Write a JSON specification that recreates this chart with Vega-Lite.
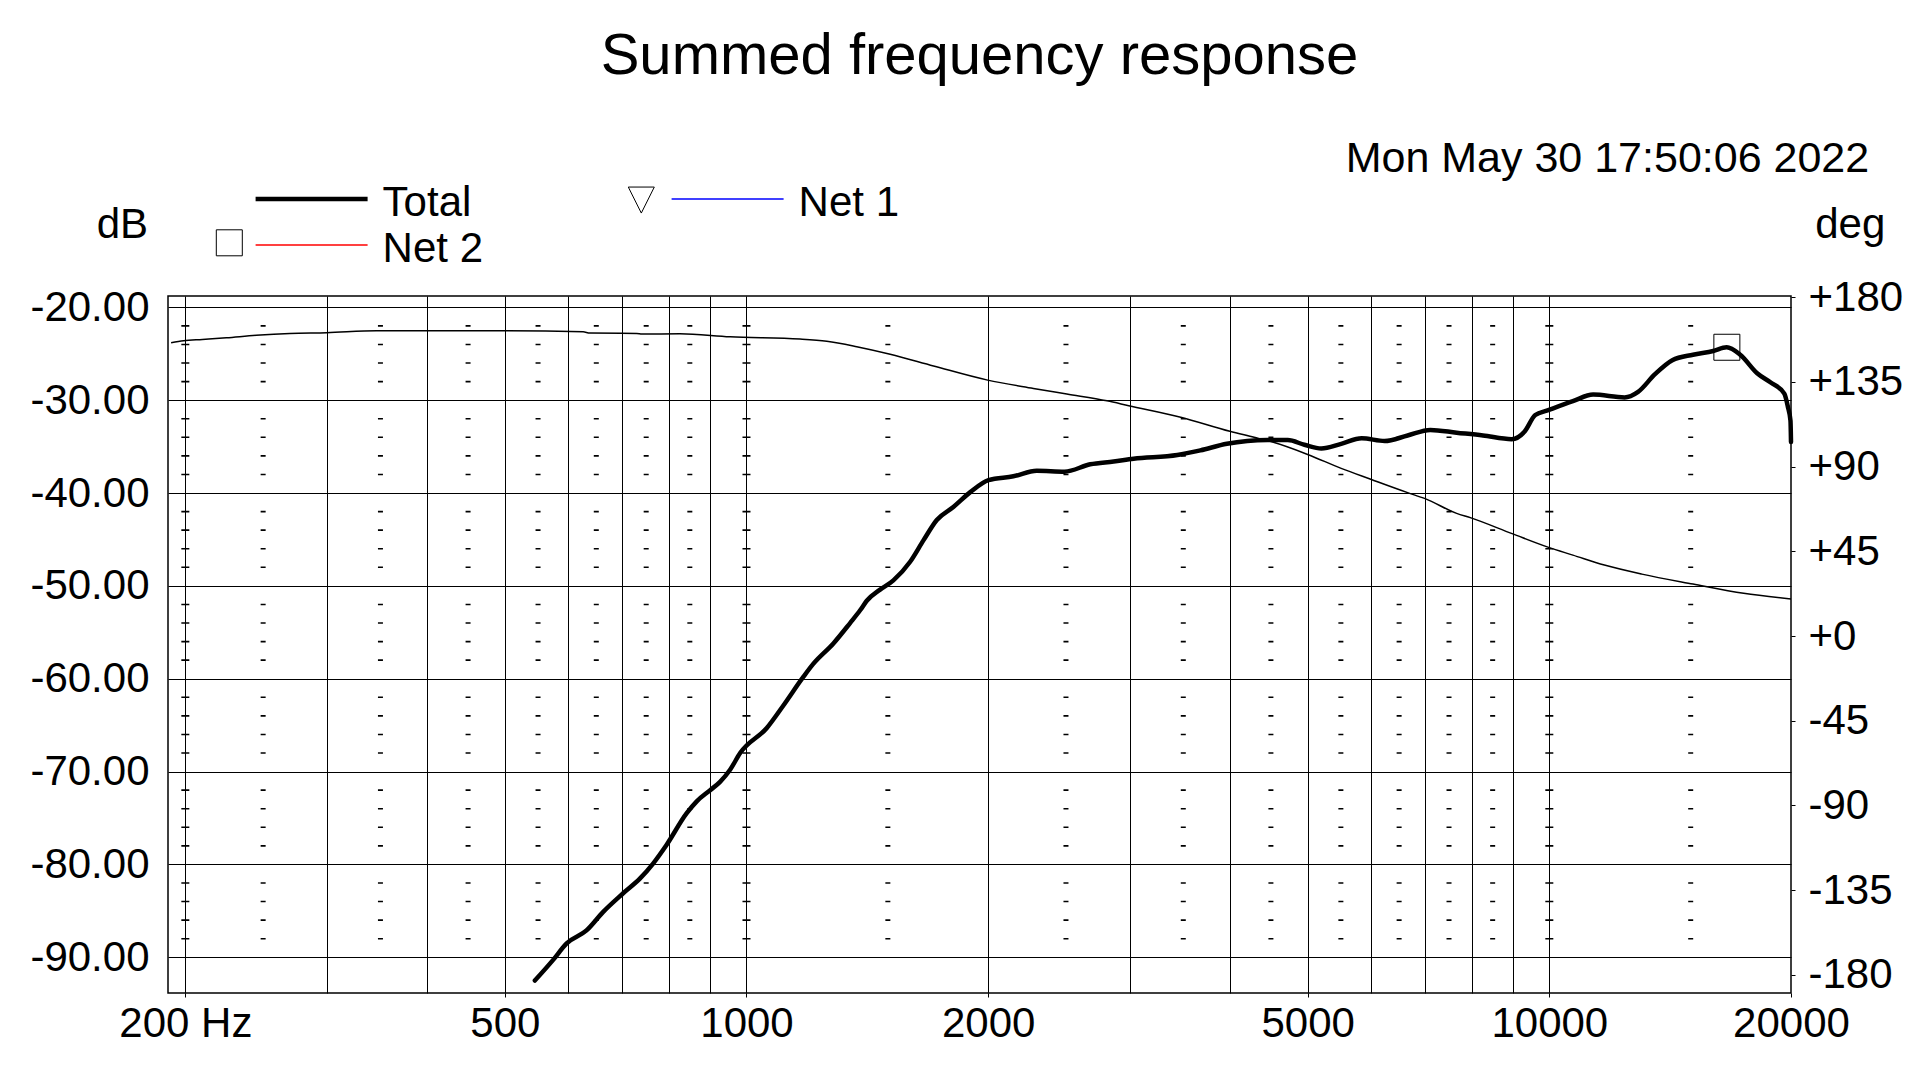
{
  "$schema": "https://vega.github.io/schema/vega-lite/v6.json",
  "autosize": {"type": "none"},
  "padding": {"left": 168, "top": 296, "right": 129, "bottom": 87},
  "width": 1623,
  "height": 697,
  "background": "white",
  "title": {"text": "Summed frequency response", "fontSize": 58, "font": "Liberation Sans", "fontWeight": "normal", "color": "black", "anchor": "middle", "frame": "group", "baseline": "alphabetic", "offset": 5.5},
  "datasets": {
    "mag": [
      {"f": 545, "db": -92.5, "series": "Total"},
      {"f": 574, "db": -90.3, "series": "Total"},
      {"f": 597, "db": -88.5, "series": "Total"},
      {"f": 632, "db": -87.1, "series": "Total"},
      {"f": 663, "db": -85.1, "series": "Total"},
      {"f": 702, "db": -83.1, "series": "Total"},
      {"f": 737, "db": -81.5, "series": "Total"},
      {"f": 765, "db": -79.9, "series": "Total"},
      {"f": 795, "db": -77.9, "series": "Total"},
      {"f": 842, "db": -74.5, "series": "Total"},
      {"f": 867, "db": -73.2, "series": "Total"},
      {"f": 901, "db": -72.0, "series": "Total"},
      {"f": 927, "db": -71.1, "series": "Total"},
      {"f": 954, "db": -69.8, "series": "Total"},
      {"f": 982, "db": -68.0, "series": "Total"},
      {"f": 1060, "db": -65.3, "series": "Total"},
      {"f": 1111, "db": -62.9, "series": "Total"},
      {"f": 1177, "db": -59.8, "series": "Total"},
      {"f": 1211, "db": -58.4, "series": "Total"},
      {"f": 1283, "db": -56.2, "series": "Total"},
      {"f": 1346, "db": -54.0, "series": "Total"},
      {"f": 1386, "db": -52.6, "series": "Total"},
      {"f": 1412, "db": -51.6, "series": "Total"},
      {"f": 1467, "db": -50.4, "series": "Total"},
      {"f": 1524, "db": -49.4, "series": "Total"},
      {"f": 1599, "db": -47.4, "series": "Total"},
      {"f": 1661, "db": -45.1, "series": "Total"},
      {"f": 1726, "db": -42.9, "series": "Total"},
      {"f": 1810, "db": -41.5, "series": "Total"},
      {"f": 1900, "db": -39.9, "series": "Total"},
      {"f": 2002, "db": -38.6, "series": "Total"},
      {"f": 2150, "db": -38.2, "series": "Total"},
      {"f": 2299, "db": -37.6, "series": "Total"},
      {"f": 2490, "db": -37.7, "series": "Total"},
      {"f": 2680, "db": -36.9, "series": "Total"},
      {"f": 2866, "db": -36.6, "series": "Total"},
      {"f": 3035, "db": -36.3, "series": "Total"},
      {"f": 3441, "db": -35.9, "series": "Total"},
      {"f": 3676, "db": -35.4, "series": "Total"},
      {"f": 3966, "db": -34.7, "series": "Total"},
      {"f": 4205, "db": -34.4, "series": "Total"},
      {"f": 4456, "db": -34.3, "series": "Total"},
      {"f": 4723, "db": -34.3, "series": "Total"},
      {"f": 4954, "db": -34.8, "series": "Total"},
      {"f": 5200, "db": -35.2, "series": "Total"},
      {"f": 5505, "db": -34.7, "series": "Total"},
      {"f": 5838, "db": -34.1, "series": "Total"},
      {"f": 6236, "db": -34.4, "series": "Total"},
      {"f": 6660, "db": -33.8, "series": "Total"},
      {"f": 7108, "db": -33.2, "series": "Total"},
      {"f": 7666, "db": -33.5, "series": "Total"},
      {"f": 8267, "db": -33.8, "series": "Total"},
      {"f": 8976, "db": -34.2, "series": "Total"},
      {"f": 9311, "db": -33.4, "series": "Total"},
      {"f": 9605, "db": -31.6, "series": "Total"},
      {"f": 9950, "db": -31.1, "series": "Total"},
      {"f": 10700, "db": -30.1, "series": "Total"},
      {"f": 11340, "db": -29.4, "series": "Total"},
      {"f": 12410, "db": -29.7, "series": "Total"},
      {"f": 12900, "db": -29.1, "series": "Total"},
      {"f": 13540, "db": -27.2, "series": "Total"},
      {"f": 14230, "db": -25.7, "series": "Total"},
      {"f": 15100, "db": -25.1, "series": "Total"},
      {"f": 16000, "db": -24.7, "series": "Total"},
      {"f": 16630, "db": -24.3, "series": "Total"},
      {"f": 17290, "db": -25.1, "series": "Total"},
      {"f": 18150, "db": -27.1, "series": "Total"},
      {"f": 18870, "db": -28.1, "series": "Total"},
      {"f": 19620, "db": -29.3, "series": "Total"},
      {"f": 19820, "db": -30.7, "series": "Total"},
      {"f": 19970, "db": -32.2, "series": "Total"},
      {"f": 20000, "db": -34.5, "series": "Total"}
    ],
    "phase": [
      {"f": 192, "deg": 155.8},
      {"f": 199, "deg": 156.9},
      {"f": 210, "deg": 157.6},
      {"f": 225, "deg": 158.5},
      {"f": 245, "deg": 159.8},
      {"f": 270, "deg": 160.8},
      {"f": 300, "deg": 161.2},
      {"f": 346, "deg": 162.2},
      {"f": 399, "deg": 162.2},
      {"f": 497, "deg": 162.2},
      {"f": 626, "deg": 161.7},
      {"f": 638, "deg": 161.0},
      {"f": 730, "deg": 160.8},
      {"f": 741, "deg": 160.5},
      {"f": 826, "deg": 160.6},
      {"f": 954, "deg": 159.0},
      {"f": 1166, "deg": 157.8},
      {"f": 1259, "deg": 156.6},
      {"f": 1372, "deg": 153.7},
      {"f": 1510, "deg": 149.7},
      {"f": 1710, "deg": 143.5},
      {"f": 1997, "deg": 136.0},
      {"f": 2277, "deg": 131.6},
      {"f": 2506, "deg": 128.6},
      {"f": 2812, "deg": 125.0},
      {"f": 2993, "deg": 122.4},
      {"f": 3474, "deg": 116.3},
      {"f": 4000, "deg": 108.8},
      {"f": 4288, "deg": 105.6},
      {"f": 4511, "deg": 103.2},
      {"f": 5000, "deg": 96.5},
      {"f": 5505, "deg": 89.1},
      {"f": 5992, "deg": 83.3},
      {"f": 6660, "deg": 76.2},
      {"f": 7004, "deg": 73.0},
      {"f": 7666, "deg": 65.2},
      {"f": 7988, "deg": 62.8},
      {"f": 8988, "deg": 54.4},
      {"f": 9980, "deg": 47.1},
      {"f": 10700, "deg": 43.0},
      {"f": 11710, "deg": 37.7},
      {"f": 13040, "deg": 32.9},
      {"f": 15100, "deg": 27.6},
      {"f": 17460, "deg": 22.7},
      {"f": 20000, "deg": 19.7}
    ],
    "marker": [
      {"f": 16640, "db": -24.3, "marker": "m2"}
    ],
    "dashes": [
      {"f": 250}, {"f": 350}, {"f": 450}, {"f": 550}, {"f": 650}, {"f": 750}, {"f": 850},
      {"f": 1500}, {"f": 2500}, {"f": 3500}, {"f": 4500}, {"f": 5500}, {"f": 6500}, {"f": 7500}, {"f": 8500},
      {"f": 15000}
    ],
    "crossdashes": [
      {"f": 200}, {"f": 1000}, {"f": 10000}
    ]
  },
  "layer": [
    {
      "data": {"name": "dashes"},
      "mark": {"type": "rule", "color": "black", "strokeWidth": 5, "strokeCap": "butt",
        "strokeDash": [0, 29.1,
          1.6, 16.97, 1.6, 16.97, 1.6, 16.97, 1.6, 35.54,
          1.6, 16.97, 1.6, 16.97, 1.6, 16.97, 1.6, 35.54,
          1.6, 16.97, 1.6, 16.97, 1.6, 16.97, 1.6, 35.54,
          1.6, 16.97, 1.6, 16.97, 1.6, 16.97, 1.6, 35.54,
          1.6, 16.97, 1.6, 16.97, 1.6, 16.97, 1.6, 35.54,
          1.6, 16.97, 1.6, 16.97, 1.6, 16.97, 1.6, 35.54,
          1.6, 16.97, 1.6, 16.97, 1.6, 16.97, 1.6, 200]},
      "encoding": {
        "x": {"field": "f", "type": "quantitative", "scale": {"type": "log", "domain": [190.3, 20000], "nice": false},
          "axis": {"orient": "top", "values": [200, 300, 400, 500, 600, 700, 800, 900, 1000, 2000, 3000, 4000, 5000, 6000, 7000, 8000, 9000, 10000],
            "grid": true, "gridColor": "black", "gridWidth": 1, "gridOpacity": 1,
            "labels": false, "ticks": false, "domain": false,
            "title": "Mon May 30 17:50:06 2022", "titleX": 1700.7, "titleY": -124.3, "titleAlign": "right", "titleBaseline": "alphabetic",
            "titleAngle": 0, "titleFontSize": 43, "titleFont": "Liberation Sans", "titleFontWeight": "normal", "titleColor": "black"}}
      }
    },
    {
      "data": {"name": "crossdashes"},
      "mark": {"type": "rule", "color": "black", "strokeWidth": 8, "strokeCap": "butt",
        "strokeDash": [0, 29.1,
          1.6, 16.97, 1.6, 16.97, 1.6, 16.97, 1.6, 35.54,
          1.6, 16.97, 1.6, 16.97, 1.6, 16.97, 1.6, 35.54,
          1.6, 16.97, 1.6, 16.97, 1.6, 16.97, 1.6, 35.54,
          1.6, 16.97, 1.6, 16.97, 1.6, 16.97, 1.6, 35.54,
          1.6, 16.97, 1.6, 16.97, 1.6, 16.97, 1.6, 35.54,
          1.6, 16.97, 1.6, 16.97, 1.6, 16.97, 1.6, 35.54,
          1.6, 16.97, 1.6, 16.97, 1.6, 16.97, 1.6, 200]},
      "encoding": {
        "x": {"field": "f", "type": "quantitative", "scale": {"type": "log", "domain": [190.3, 20000], "nice": false}, "axis": null}
      }
    },
    {
      "data": {"name": "phase"},
      "mark": {"type": "line", "color": "black", "strokeWidth": 1.5, "interpolate": "monotone"},
      "encoding": {
        "x": {"field": "f", "type": "quantitative", "scale": {"type": "log", "domain": [190.3, 20000], "nice": false}, "axis": null},
        "y": {"field": "deg", "type": "quantitative", "scale": {"domain": [-189.7, 180.7], "nice": false, "zero": false},
          "axis": {"orient": "right", "values": [-180, -135, -90, -45, 0, 45, 90, 135, 180],
            "labelExpr": "datum.value > 0 ? '+' + datum.value : (datum.value == 0 ? '\u00a0+0' : '-' + abs(datum.value))",
            "grid": false, "domain": false, "ticks": true, "tickSize": 4, "tickColor": "black", "tickWidth": 1,
            "labelPadding": 13, "labelFontSize": 42, "labelFont": "Liberation Sans", "labelColor": "black", "labelAlign": "left", "labelBaseline": "middle",
            "labelOverlap": false, "labelFlush": false,
            "title": "deg", "titleX": 23.7, "titleY": -59, "titleAlign": "left", "titleBaseline": "alphabetic", "titleAngle": 0,
            "titleFontSize": 42, "titleFont": "Liberation Sans", "titleFontWeight": "normal", "titleColor": "black"}}
      }
    },
    {
      "data": {"name": "mag"},
      "mark": {"type": "line", "strokeWidth": 4.5, "interpolate": "monotone", "strokeJoin": "round", "strokeCap": "round"},
      "encoding": {
        "x": {"field": "f", "type": "quantitative", "scale": {"type": "log", "domain": [190.3, 20000], "nice": false},
          "axis": {"orient": "bottom", "values": [200, 500, 1000, 2000, 5000, 10000, 20000], "format": "d",
            "labelExpr": "datum.value == 200 ? '200 Hz' : '' + datum.value",
            "grid": false, "domain": false, "ticks": true, "tickSize": 4, "tickColor": "black", "tickWidth": 1,
            "labelPadding": 6, "labelFontSize": 42, "labelFont": "Liberation Sans", "labelColor": "black",
            "labelOverlap": false, "labelFlush": false, "title": null}},
        "y": {"field": "db", "type": "quantitative", "scale": {"domain": [-93.84, -18.78], "nice": false, "zero": false},
          "axis": {"orient": "left", "values": [-20, -30, -40, -50, -60, -70, -80, -90],
            "labelExpr": "(datum.value < 0 ? '-' : '') + format(abs(datum.value), '.2f')",
            "grid": true, "gridColor": "black", "gridWidth": 1, "gridOpacity": 1,
            "domain": false, "ticks": false, "labelPadding": 19, "labelFontSize": 42, "labelFont": "Liberation Sans", "labelColor": "black",
            "labelOverlap": false, "labelFlush": false,
            "title": "dB", "titleX": -20.5, "titleY": -58.3, "titleAlign": "right", "titleBaseline": "alphabetic", "titleAngle": 0,
            "titleFontSize": 42, "titleFont": "Liberation Sans", "titleFontWeight": "normal", "titleColor": "black"}},
        "color": {"field": "series", "type": "nominal",
          "scale": {"domain": ["Total", "Net 1", "Net 2"], "range": ["black", "#0000ff", "#ff0000"]},
          "legend": {"orient": "none", "legendX": 122.6, "legendY": -118, "columns": 2, "direction": "horizontal",
            "symbolType": "stroke", "symbolSize": 12544, "symbolStrokeWidth": 1.5,
            "labelFontSize": 42, "labelFont": "Liberation Sans", "labelColor": "black", "labelOffset": 50,
            "columnPadding": 185, "rowPadding": -11, "title": null, "padding": 0,
            "encode": {
              "symbols": {"update": {"strokeWidth": {"signal": "datum.value === 'Total' ? 4.5 : 1.5"}}},
              "labels": {"update": {"dy": {"value": 4}}}
            }}}
      }
    },
    {
      "data": {"name": "marker"},
      "mark": {"type": "point", "filled": false, "color": "black", "strokeWidth": 1, "size": 676, "opacity": 1},
      "encoding": {
        "x": {"field": "f", "type": "quantitative", "scale": {"type": "log", "domain": [190.3, 20000], "nice": false}, "axis": null},
        "y": {"field": "db", "type": "quantitative", "scale": {"domain": [-93.84, -18.78], "nice": false, "zero": false}, "axis": null},
        "shape": {"field": "marker", "type": "nominal",
          "scale": {"domain": ["m0", "m1", "m2"], "range": ["M0,0", "M-1,-1L1,-1L0,1Z", "square"]},
          "legend": {"orient": "none", "legendX": 47.8, "legendY": -109.7, "columns": 2, "direction": "horizontal",
            "symbolSize": 676, "symbolStrokeColor": "black", "symbolFillColor": "transparent", "symbolStrokeWidth": 1,
            "labelExpr": "''", "labelOffset": 0, "labelFontSize": 1,
            "columnPadding": 381, "rowPadding": 12, "title": null, "padding": 0}}
      }
    }
  ],
  "resolve": {"scale": {"y": "independent"}, "axis": {"x": "independent", "y": "independent"}},
  "config": {
    "view": {"stroke": "black", "strokeWidth": 1.5},
    "font": "Liberation Sans"
  }
}
